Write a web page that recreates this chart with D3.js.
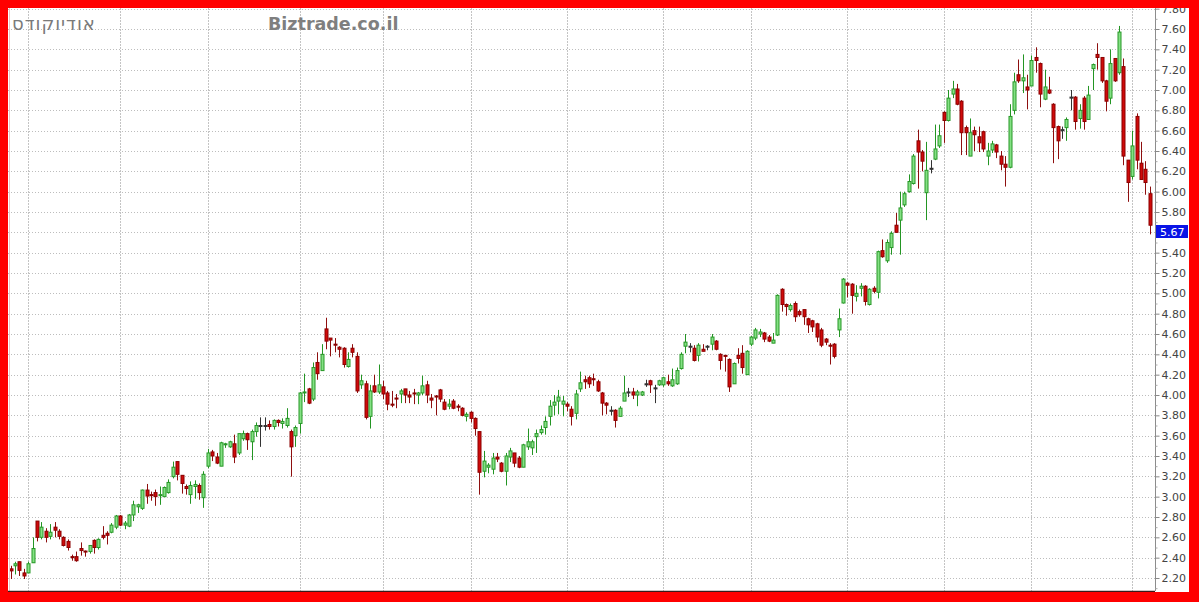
<!DOCTYPE html>
<html>
<head>
<meta charset="utf-8">
<script src="https://cdn.jsdelivr.net/npm/d3@7"></script>
<style>
  html, body { margin: 0; padding: 0; background: #fff; }
  svg { display: block; }
</style>
</head>
<body>
<div id="chart"></div>
<script>
// ---- Data ----
const title = "אודיוקודס";
const site = "Biztrade.co.il";
const lastPrice = 5.67;

const open = [2.29,2.32,2.36,2.25,2.25,2.35,2.76,2.60,2.66,2.61,2.70,2.66,2.60,2.56,2.41,2.41,2.49,2.465,2.46,2.57,
2.50,2.62,2.64,2.65,2.70,2.81,2.72,2.71,2.82,2.90,2.885,3.065,3.02,3.04,3.01,3.00,3.04,3.197,3.345,3.21,
3.10,3.02,3.10,3.11,2.99,3.30,3.44,3.39,3.30,3.51,3.49,3.52,3.43,3.57,3.62,3.54,3.64,3.70,3.70,3.71,
3.69,3.75,3.72,3.70,3.64,3.60,3.72,4.02,4.06,3.96,4.32,4.24,4.65,4.56,4.50,4.47,4.46,4.28,4.46,4.38,
4.10,4.11,3.79,4.09,4.03,4.08,4.02,3.91,3.97,4.01,4.06,4.00,4.02,4.00,4.02,4.10,3.97,3.99,4.05,3.93,
3.89,3.94,3.89,3.87,3.79,3.83,3.77,3.64,3.25,3.29,3.27,3.39,3.33,3.25,3.39,3.43,3.38,3.29,3.49,3.48,
3.59,3.63,3.68,3.79,3.90,3.94,3.91,3.91,3.86,3.82,4.06,4.15,4.17,4.16,4.13,4.02,3.92,3.85,3.85,3.79,
3.94,4.03,4.03,4.00,4.00,4.11,4.14,4.07,4.10,4.10,4.13,4.09,4.11,4.26,4.48,4.48,4.46,4.39,4.45,4.48,
4.50,4.53,4.40,4.39,4.35,4.11,4.39,4.41,4.20,4.50,4.56,4.60,4.61,4.57,4.51,4.59,5.04,4.89,4.84,4.90,
4.82,4.84,4.75,4.73,4.70,4.64,4.55,4.49,4.50,4.64,4.905,5.10,5.09,4.97,5.05,5.07,4.89,5.05,5.01,5.42,
5.32,5.45,5.67,5.72,5.87,6.00,6.08,6.50,6.39,5.99,6.23,6.32,6.45,6.78,6.70,6.96,7.01,6.89,6.63,6.35,
6.60,6.54,6.59,6.35,6.41,6.46,6.35,6.27,6.24,6.80,7.15,7.09,7.03,7.04,7.32,7.26,6.91,7.00,6.86,6.64,
6.61,6.63,6.93,6.93,6.72,6.92,6.71,7.21,7.35,7.32,7.09,6.92,7.31,7.17,7.23,6.31,6.15,6.74,6.28,6.22,5.98];

const high = [2.32,2.36,2.36,2.29,2.36,2.60,2.76,2.75,2.69,2.73,2.75,2.68,2.61,2.58,2.43,2.46,2.55,2.47,2.52,2.58,
2.59,2.71,2.66,2.74,2.82,2.82,2.76,2.83,2.96,2.93,3.07,3.125,3.05,3.07,3.10,3.10,3.17,3.345,3.345,3.21,
3.12,3.15,3.16,3.13,3.25,3.47,3.46,3.43,3.54,3.53,3.55,3.61,3.62,3.65,3.63,3.66,3.73,3.78,3.78,3.75,
3.76,3.76,3.77,3.87,3.66,3.70,4.03,4.21,4.07,4.32,4.42,4.50,4.76,4.56,4.56,4.48,4.47,4.42,4.50,4.42,
4.20,4.14,4.10,4.20,4.30,4.14,4.04,4.04,4.01,4.06,4.06,4.04,4.06,4.03,4.19,4.14,4.01,4.00,4.06,3.96,
3.96,3.96,3.91,3.88,3.83,3.84,3.78,3.64,3.45,3.33,3.43,3.43,3.34,3.43,3.48,3.43,3.40,3.52,3.67,3.56,
3.66,3.70,3.79,3.95,4.00,4.05,3.99,3.93,3.89,4.05,4.23,4.19,4.19,4.21,4.15,4.03,3.93,3.89,3.86,3.89,
4.19,4.07,4.07,4.05,4.04,4.15,4.15,4.10,4.15,4.18,4.20,4.26,4.27,4.42,4.60,4.51,4.49,4.51,4.50,4.49,
4.60,4.54,4.41,4.39,4.36,4.32,4.46,4.49,4.44,4.58,4.66,4.65,4.62,4.59,4.61,4.99,5.05,4.90,4.90,4.92,
4.84,4.84,4.76,4.74,4.71,4.66,4.56,4.51,4.51,4.85,5.15,5.11,5.10,5.08,5.10,5.08,5.05,5.07,5.42,5.53,
5.53,5.61,5.79,6.00,6.00,6.17,6.37,6.61,6.41,6.49,6.31,6.66,6.66,6.79,7.00,7.09,7.06,6.90,6.65,6.72,
6.64,6.64,6.60,6.48,6.50,6.47,6.40,6.35,6.86,7.17,7.30,7.35,7.15,7.34,7.42,7.27,7.20,7.13,6.87,6.65,
6.64,6.73,7.00,6.94,6.86,6.94,7.04,7.26,7.46,7.32,7.10,7.40,7.31,7.63,7.31,6.31,6.60,6.77,6.49,6.30,6.05];

const low = [2.19,2.235,2.22,2.19,2.25,2.35,2.56,2.58,2.55,2.58,2.60,2.58,2.51,2.47,2.37,2.36,2.42,2.41,2.44,2.44,
2.48,2.58,2.53,2.64,2.68,2.71,2.68,2.70,2.76,2.84,2.87,2.93,2.96,2.91,2.92,3.00,3.03,3.18,3.16,3.03,
3.02,2.93,2.98,2.97,2.89,3.28,3.35,3.32,3.30,3.48,3.48,3.33,3.41,3.55,3.46,3.36,3.59,3.49,3.65,3.66,
3.66,3.69,3.67,3.68,3.197,3.49,3.62,3.93,3.91,3.94,4.15,4.24,4.45,4.38,4.42,4.37,4.27,4.27,4.37,4.02,
4.06,3.76,3.67,4.02,4.01,3.96,3.85,3.88,3.87,3.92,3.92,3.92,3.91,3.91,4.00,3.92,3.87,3.80,3.93,3.85,
3.86,3.86,3.84,3.79,3.74,3.73,3.60,3.02,3.19,3.23,3.22,3.34,3.24,3.11,3.34,3.29,3.28,3.29,3.46,3.41,
3.43,3.61,3.61,3.70,3.80,3.81,3.79,3.84,3.70,3.76,4.03,4.06,4.07,4.09,4.03,3.80,3.81,3.80,3.68,3.79,
3.94,3.98,3.96,3.89,3.99,4.08,4.02,3.92,4.09,4.08,4.09,4.08,4.10,4.25,4.41,4.42,4.33,4.33,4.43,4.44,
4.44,4.44,4.25,4.23,4.03,4.11,4.31,4.21,4.20,4.48,4.54,4.57,4.52,4.52,4.51,4.58,4.82,4.78,4.82,4.72,
4.77,4.69,4.61,4.62,4.52,4.47,4.49,4.30,4.36,4.57,4.90,4.96,4.80,4.92,4.97,4.88,4.88,5.00,4.95,5.35,
5.30,5.38,5.60,5.38,5.85,5.99,6.07,6.03,6.20,5.72,6.18,6.31,6.43,6.48,6.69,6.92,6.85,6.36,6.36,6.35,
6.40,6.39,6.39,6.26,6.38,6.33,6.21,6.05,6.23,6.76,7.07,6.97,6.81,7.04,7.17,6.83,6.90,6.96,6.28,6.32,
6.52,6.50,6.80,6.61,6.62,6.61,6.71,7.00,7.20,7.07,6.79,6.86,7.08,7.15,6.26,5.90,6.12,6.22,6.12,5.97,5.58];

const close = [2.27,2.34,2.275,2.22,2.34,2.49,2.60,2.70,2.60,2.65,2.67,2.61,2.52,2.50,2.40,2.37,2.47,2.46,2.52,2.50,
2.58,2.60,2.62,2.72,2.81,2.72,2.74,2.82,2.92,2.92,3.065,3.006,3.01,3.00,3.02,3.09,3.14,3.29,3.22,3.13,
3.08,3.11,3.12,3.04,3.22,3.43,3.40,3.33,3.53,3.52,3.54,3.39,3.62,3.62,3.56,3.64,3.70,3.70,3.70,3.69,
3.75,3.73,3.74,3.77,3.49,3.68,4.02,4.03,3.92,4.27,4.21,4.40,4.53,4.54,4.49,4.45,4.30,4.35,4.42,4.04,
4.14,3.78,4.04,4.03,4.10,4.01,3.91,3.90,3.96,4.04,4.00,3.98,4.01,4.02,4.09,4.00,3.95,3.98,3.96,3.86,
3.91,3.87,3.88,3.80,3.81,3.77,3.67,3.24,3.35,3.31,3.38,3.37,3.25,3.40,3.45,3.33,3.29,3.51,3.54,3.54,
3.62,3.66,3.74,3.89,3.93,3.98,3.94,3.89,3.79,4.01,4.12,4.13,4.11,4.15,4.04,3.92,3.90,3.85,3.75,3.87,
4.02,4.03,4.00,4.03,4.03,4.11,4.10,4.07,4.14,4.17,4.11,4.15,4.24,4.40,4.52,4.48,4.34,4.49,4.43,4.48,
4.57,4.45,4.34,4.38,4.08,4.31,4.36,4.27,4.43,4.57,4.64,4.62,4.55,4.53,4.54,4.98,4.89,4.87,4.88,4.77,
4.79,4.77,4.69,4.67,4.57,4.49,4.52,4.48,4.38,4.75,5.14,5.08,4.98,5.00,5.07,4.92,5.04,5.02,5.41,5.36,
5.50,5.59,5.60,5.84,5.98,6.10,6.35,6.39,6.30,6.21,6.23,6.42,6.55,6.70,6.92,7.01,6.86,6.58,6.58,6.58,
6.56,6.48,6.42,6.40,6.47,6.39,6.27,6.24,6.74,7.08,7.09,7.12,7.00,7.29,7.29,6.96,7.03,6.97,6.63,6.50,
6.61,6.71,6.93,6.69,6.80,6.69,6.95,7.25,7.32,7.09,6.89,7.26,7.09,7.57,6.35,6.09,6.45,6.31,6.12,6.09,5.67];

// candle index where each monthly vertical grid line falls
const monthStarts = [4,25,45,66,85,105,127,149,169,191,213,233,256];
// y-axis tick values (labelled every 0.20)
const yTicks = [2.2,2.4,2.6,2.8,3.0,3.2,3.4,3.6,3.8,4.0,4.2,4.4,4.6,4.8,5.0,5.2,5.4,5.6,5.8,6.0,6.2,6.4,6.6,6.8,7.0,7.2,7.4,7.6,7.8];
const yMinorTicks = [2.1,2.3,2.5,2.7,2.9,3.1,3.3,3.5,3.7,3.9,4.1,4.3,4.5,4.7,4.9,5.1,5.3,5.5,5.7,5.9,6.1,6.3,6.5,6.7,6.9,7.1,7.3,7.5,7.7];

// ---- Layout ----
const W = 1199, H = 602;
const plotL = 8, plotR = 1155, plotT = 8, plotB = 591;

const candles = open.map((o, i) => ({ i, o, h: high[i], l: low[i], c: close[i] }));

const x = d3.scaleLinear().domain([0, candles.length - 1]).range([10.7, 1149.7]);
const y = d3.scaleLinear().domain([2.2, 7.6]).range([578, 29]);

const svg = d3.select("#chart").append("svg")
  .attr("width", W).attr("height", H)
  .style("font-family", "'DejaVu Sans', Verdana, sans-serif");

svg.append("rect").attr("x", 0).attr("y", 0).attr("width", W).attr("height", H).attr("fill", "#fff");

const plot = svg.append("g");

// horizontal grid
plot.append("g").selectAll("line").data(yTicks).join("line")
  .attr("x1", plotL).attr("x2", plotR)
  .attr("y1", d => Math.round(y(d)) + 0.5).attr("y2", d => Math.round(y(d)) + 0.5)
  .attr("stroke", "#bdbdbd").attr("stroke-width", 1).attr("stroke-dasharray", "1,2");

// vertical grid (month boundaries)
plot.append("g").selectAll("line").data(monthStarts).join("line")
  .attr("x1", d => Math.round(x(d)) + 0.5).attr("x2", d => Math.round(x(d)) + 0.5)
  .attr("y1", plotT).attr("y2", plotB)
  .attr("stroke", "#c4c4c4").attr("stroke-width", 1).attr("stroke-dasharray", "2,1");

// title texts
svg.append("text").attr("x", 12).attr("y", 30)
  .attr("font-size", 18).attr("letter-spacing", 1).attr("fill", "#7a7a7a").text(title);
svg.append("text").attr("x", 268).attr("y", 30)
  .attr("font-size", 17.5).attr("font-weight", "bold").attr("fill", "#7f7f7f").text(site);

// candles
const colorOf = d => d.c > d.o ? "up" : (d.c < d.o ? "down" : "flat");
const wickColor = { up: "#239523", down: "#8e0f0f", flat: "#333" };
const bodyFill = { up: "#84e084", down: "#d00a0a", flat: "#333" };
const bodyStroke = { up: "#279827", down: "#8a0000", flat: "#333" };

const cg = plot.append("g");
const g = cg.selectAll("g").data(candles).join("g");
g.append("line")
  .attr("x1", d => Math.round(x(d.i)) + 0.5).attr("x2", d => Math.round(x(d.i)) + 0.5)
  .attr("y1", d => y(d.h)).attr("y2", d => y(d.l))
  .attr("stroke", d => wickColor[colorOf(d)]).attr("stroke-width", 1);
g.append("rect")
  .attr("x", d => Math.round(x(d.i)) - 1)
  .attr("y", d => y(Math.max(d.o, d.c)))
  .attr("width", 3)
  .attr("height", d => Math.max(1, Math.abs(y(d.o) - y(d.c))))
  .attr("fill", d => bodyFill[colorOf(d)])
  .attr("stroke", d => bodyStroke[colorOf(d)])
  .attr("stroke-width", 1);

// plot frame
svg.append("line").attr("x1", plotR + 0.5).attr("x2", plotR + 0.5).attr("y1", plotT).attr("y2", plotB)
  .attr("stroke", "#8c8c8c").attr("stroke-width", 1);
svg.append("line").attr("x1", plotL + 1.5).attr("x2", plotL + 1.5).attr("y1", plotT).attr("y2", plotB)
  .attr("stroke", "#e8c8c8").attr("stroke-width", 1);
svg.append("line").attr("x1", plotL).attr("x2", plotR).attr("y1", plotB + 0.5).attr("y2", plotB + 0.5)
  .attr("stroke", "#3a1a1a").attr("stroke-width", 1.5);

// right axis
const axisG = svg.append("g").attr("transform", `translate(${plotR + 0.5},0)`);
const axis = d3.axisRight(y).tickValues(yTicks).tickSize(4).tickPadding(2)
  .tickFormat(d3.format(".2f"));
axisG.call(axis);
axisG.select(".domain").remove();
axisG.selectAll(".tick line").attr("stroke", "#888");
axisG.selectAll(".tick text")
  .attr("font-family", "'DejaVu Sans', Verdana, sans-serif")
  .attr("font-size", 11).attr("fill", "#444")
  .style("display", d => Math.abs(d - 5.6) < 1e-9 ? "none" : null);
const minorG = svg.append("g").attr("transform", `translate(${plotR + 0.5},0)`);
minorG.call(d3.axisRight(y).tickValues(yMinorTicks).tickSize(2).tickFormat(""));
minorG.select(".domain").remove();
minorG.selectAll(".tick line").attr("stroke", "#aaa");

// last price marker
const lp = svg.append("g").attr("transform", `translate(${plotR + 1},${Math.round(y(lastPrice))})`);
lp.append("rect").attr("x", 0).attr("y", 0).attr("width", 32).attr("height", 13).attr("fill", "#0a14e6");
lp.append("text").attr("x", 4).attr("y", 10.5).attr("font-size", 11).attr("fill", "#fff")
  .text(d3.format(".2f")(lastPrice));

// red outer frame
const frame = svg.append("g").attr("fill", "#ff0000");
frame.append("rect").attr("x", 0).attr("y", 0).attr("width", W).attr("height", 8);
frame.append("rect").attr("x", 0).attr("y", 592).attr("width", W).attr("height", 10);
frame.append("rect").attr("x", 0).attr("y", 0).attr("width", 8).attr("height", H);
frame.append("rect").attr("x", 1189).attr("y", 0).attr("width", 10).attr("height", H);
</script>
</body>
</html>
